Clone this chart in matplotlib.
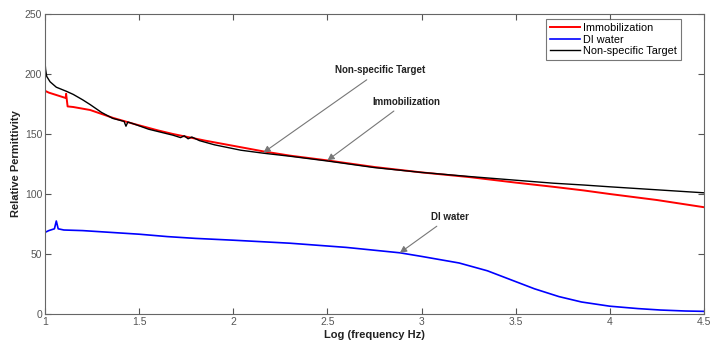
import matplotlib
matplotlib.use("Agg")
import matplotlib.pyplot as plt

plt.rcParams['font.family'] = ['Liberation Sans', 'DejaVu Sans']

# Immobilization (red)
imm_x = [1.0, 1.02, 1.05, 1.08, 1.11, 1.112, 1.12, 1.15, 1.24, 1.36, 1.47, 1.6, 1.68,
         1.85, 2.04, 2.16, 2.3, 2.5, 2.75, 3.0, 3.26, 3.5, 3.7, 3.86, 4.0, 4.25, 4.5]
imm_y = [186, 184.5, 183, 181.5, 180, 183.5, 173, 172.5, 170, 163.5, 158.5, 153, 150,
         144.5, 139, 135.5, 132, 128, 122.5, 118, 114, 109.5, 106, 103, 100, 95, 89]

# DI water (blue)
di_x = [1.0, 1.02, 1.05, 1.06, 1.07, 1.1, 1.2, 1.3, 1.4, 1.5, 1.65, 1.8, 2.0, 2.3, 2.6,
        2.885, 3.0, 3.2, 3.35, 3.5, 3.6, 3.73, 3.85, 4.0, 4.15, 4.27, 4.4, 4.5]
di_y = [68, 69.5, 71, 77.5, 71, 70, 69.5, 68.5, 67.5, 66.5, 64.5, 63, 61.5, 59, 55.5,
        51, 48, 42.5, 36, 27, 21, 14.5, 10, 6.5, 4.5, 3.3, 2.5, 2.2]

# Non-specific Target (black)
ns_x = [1.0, 1.001, 1.003, 1.009, 1.027, 1.06, 1.115, 1.15, 1.2, 1.24, 1.3, 1.36, 1.42, 1.43,
        1.44, 1.47, 1.55, 1.68, 1.72, 1.74, 1.76, 1.78, 1.82, 1.9, 2.04, 2.16,
        2.3, 2.5, 2.75, 3.0, 3.26, 3.5, 3.7, 3.86, 4.0, 4.25, 4.5]
ns_y = [156, 208, 204, 198, 193.5, 189, 185.5, 183, 178.5, 174.5, 168, 163, 160.5, 156.5,
        160, 158.5, 154, 149, 147, 148.5, 146, 147.5, 144.5, 141, 136.5, 134, 131.5,
        127.5, 122, 118, 114.5, 111.5, 109, 107.5, 106, 103.5, 101]

fig = plt.figure(figsize=(7.1, 3.46), dpi=100)
ax = fig.add_axes([0.0634, 0.0925, 0.928, 0.867])

ax.plot(imm_x, imm_y, color='#ff0000', lw=1.4, label='Immobilization')
ax.plot(di_x, di_y, color='#0000ff', lw=1.2, label='DI water')
ax.plot(ns_x, ns_y, color='black', lw=1.0, label='Non-specific Target')

ax.set_xlim(1, 4.5)
ax.set_ylim(0, 250)
ax.set_xticks([1, 1.5, 2, 2.5, 3, 3.5, 4, 4.5])
ax.set_xticklabels(['1', '1.5', '2', '2.5', '3', '3.5', '4', '4.5'])
ax.set_yticks([0, 50, 100, 150, 200, 250])
ax.tick_params(direction='in', top=True, right=True, length=4, width=0.8,
               labelsize=7.5, labelcolor='#555555', color='#555555', pad=2)
for s in ax.spines.values():
    s.set_color('#666666')
    s.set_linewidth(0.8)

ax.set_xlabel('Log (frequency Hz)', fontsize=8, fontweight='bold', color='#222222', labelpad=2)
ax.set_ylabel('Relative Permittivity', fontsize=8, fontweight='bold', color='#222222', labelpad=3)

arrow = dict(arrowstyle='-|>', color='#777777', lw=0.8, shrinkA=2, shrinkB=0,
             mutation_scale=10)
ax.annotate('Non-specific Target', xy=(2.16, 134.5), xytext=(2.54, 203),
            fontsize=7, fontweight='bold', color='#222222', ha='left', va='center',
            arrowprops=arrow)
ax.annotate('Immobilization', xy=(2.5, 128), xytext=(2.74, 177),
            fontsize=7, fontweight='bold', color='#222222', ha='left', va='center',
            arrowprops=arrow)
ax.annotate('DI water', xy=(2.885, 51), xytext=(3.05, 81),
            fontsize=7, fontweight='bold', color='#222222', ha='left', va='center',
            arrowprops=arrow)

leg = ax.legend(loc='upper right', fontsize=7.8, frameon=True, fancybox=False,
                edgecolor='#555555', handlelength=2.8, borderpad=0.35, labelspacing=0.15,
                handletextpad=0.3, borderaxespad=0, bbox_to_anchor=(0.965, 0.983))
leg.get_frame().set_linewidth(0.8)

fig.savefig('out.png', dpi=100)
